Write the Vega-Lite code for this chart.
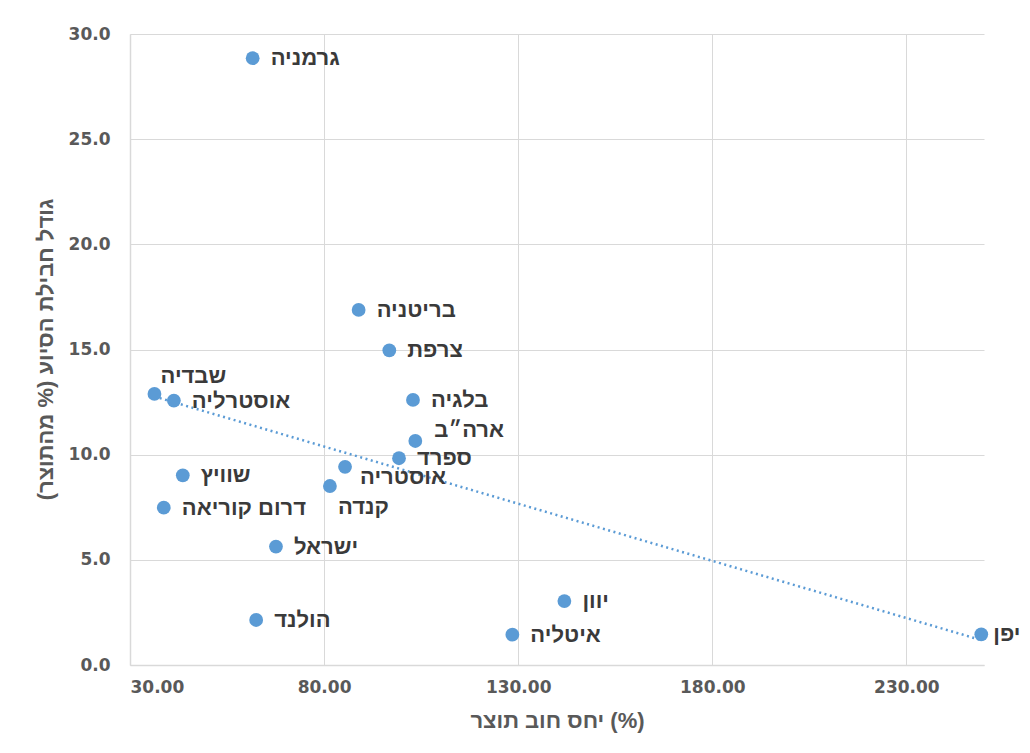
{
  "$schema": "https://vega.github.io/schema/vega-lite/v6.json",
  "autosize": {"type": "none"},
  "width": 854,
  "height": 631,
  "padding": {"left": 130, "top": 34, "right": 46, "bottom": 88},
  "background": "white",
  "config": {
    "view": {"stroke": null},
    "font": "DejaVu Sans"
  },
  "data": {
    "values": [
      {"country": "גרמניה", "debt": 61.6, "aid": 28.85},
      {"country": "בריטניה", "debt": 88.9, "aid": 16.88},
      {"country": "צרפת", "debt": 96.8, "aid": 14.96},
      {"country": "שבדיה", "debt": 36.3, "aid": 12.89},
      {"country": "אוסטרליה", "debt": 41.3, "aid": 12.57},
      {"country": "בלגיה", "debt": 102.9, "aid": 12.6},
      {"country": "ארה״ב", "debt": 103.5, "aid": 10.65},
      {"country": "ספרד", "debt": 99.3, "aid": 9.83},
      {"country": "אוסטריה", "debt": 85.4, "aid": 9.42},
      {"country": "שוויץ", "debt": 43.6, "aid": 9.02},
      {"country": "קנדה", "debt": 81.5, "aid": 8.51},
      {"country": "דרום קוריאה", "debt": 38.7, "aid": 7.48},
      {"country": "ישראל", "debt": 67.6, "aid": 5.63},
      {"country": "הולנד", "debt": 62.5, "aid": 2.14},
      {"country": "יוון", "debt": 141.9, "aid": 3.04},
      {"country": "איטליה", "debt": 128.5, "aid": 1.44},
      {"country": "יפן", "debt": 249.3, "aid": 1.46}
    ]
  },
  "encoding": {
    "x": {
      "field": "debt", "type": "quantitative",
      "scale": {"domain": [30, 250], "nice": false, "zero": false},
      "axis": {
        "values": [30, 80, 130, 180, 230],
        "format": ".2f",
        "title": "יחס חוב תוצר (%)",
        "grid": true, "gridColor": "#D9D9D9", "gridWidth": 1,
        "domain": true, "domainColor": "#D9D9D9", "domainWidth": 1.5,
        "ticks": false,
        "labelFont": "DejaVu Sans", "labelFontSize": 17, "labelFontWeight": "bold", "labelColor": "#595959",
        "labelPadding": 14,
        "titleFont": "Liberation Sans", "titleFontSize": 22, "titleFontWeight": "bold", "titleColor": "#595959",
        "titleBaseline": "middle", "titleY": 55, "titleX": 427
      }
    },
    "y": {
      "field": "aid", "type": "quantitative",
      "scale": {"domain": [0, 30], "nice": false, "zero": true},
      "axis": {
        "values": [0, 5, 10, 15, 20, 25, 30],
        "format": ".1f",
        "title": "גודל חבילת הסיוע (% מהתוצר)",
        "grid": true, "gridColor": "#D9D9D9", "gridWidth": 1,
        "domain": true, "domainColor": "#D9D9D9", "domainWidth": 1.5,
        "ticks": false,
        "labelFont": "DejaVu Sans", "labelFontSize": 17, "labelFontWeight": "bold", "labelColor": "#595959",
        "labelPadding": 20,
        "titleFont": "Liberation Sans", "titleFontSize": 22, "titleFontWeight": "bold", "titleColor": "#595959",
        "titleAngle": -90, "titleBaseline": "middle", "titleX": -85, "titleY": 315
      }
    }
  },
  "layer": [
    {
      "transform": [{"regression": "aid", "on": "debt"}],
      "mark": {"type": "line", "color": "#5B9BD5", "strokeWidth": 2.5, "strokeDash": [2, 3.5]},
      "encoding": {}
    },
    {
      "mark": {"type": "circle", "color": "#5B9BD5", "opacity": 1, "size": 190}
    },
    {
      "transform": [{"filter": {"not": {"field": "country", "oneOf": ["שבדיה", "ארה״ב", "אוסטריה", "קנדה", "יפן"]}}}],
      "mark": {"type": "text", "align": "left", "baseline": "middle", "dx": 18, "font": "Liberation Sans", "fontSize": 22, "fontWeight": "bold", "color": "#3A3A3A"},
      "encoding": {"text": {"field": "country"}}
    },
    {
      "transform": [{"filter": {"field": "country", "equal": "שבדיה"}}],
      "mark": {"type": "text", "align": "left", "baseline": "middle", "dx": 6, "dy": -18, "font": "Liberation Sans", "fontSize": 22, "fontWeight": "bold", "color": "#3A3A3A"},
      "encoding": {"text": {"field": "country"}}
    },
    {
      "transform": [{"filter": {"field": "country", "equal": "ארה״ב"}}],
      "mark": {"type": "text", "align": "left", "baseline": "middle", "dx": 19, "dy": -11, "font": "Liberation Sans", "fontSize": 22, "fontWeight": "bold", "color": "#3A3A3A"},
      "encoding": {"text": {"field": "country"}}
    },
    {
      "transform": [{"filter": {"field": "country", "equal": "אוסטריה"}}],
      "mark": {"type": "text", "align": "left", "baseline": "middle", "dx": 15, "dy": 10, "font": "Liberation Sans", "fontSize": 22, "fontWeight": "bold", "color": "#3A3A3A"},
      "encoding": {"text": {"field": "country"}}
    },
    {
      "transform": [{"filter": {"field": "country", "equal": "קנדה"}}],
      "mark": {"type": "text", "align": "left", "baseline": "middle", "dx": 8, "dy": 21, "font": "Liberation Sans", "fontSize": 22, "fontWeight": "bold", "color": "#3A3A3A"},
      "encoding": {"text": {"field": "country"}}
    },
    {
      "transform": [{"filter": {"field": "country", "equal": "יפן"}}],
      "mark": {"type": "text", "align": "left", "baseline": "middle", "dx": 12, "font": "Liberation Sans", "fontSize": 22, "fontWeight": "bold", "color": "#3A3A3A"},
      "encoding": {"text": {"field": "country"}}
    }
  ]
}
